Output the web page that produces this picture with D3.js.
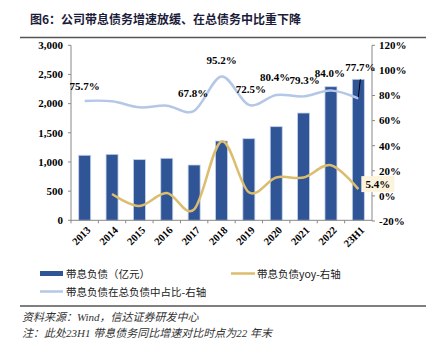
<!DOCTYPE html>
<meta charset="utf-8">
<head>
    <script src="https://d3js.org/d3.v7.min.js"></script>
    <style>
        body { margin: 0; background: #fff; }
        svg text { font-family: "Liberation Serif", "Times New Roman", "Noto Sans CJK SC", serif; }
    </style>
</head>
<body>
<div id="chart"></div>
<script>
    // data
    var years = ["2013", "2014", "2015", "2016", "2017", "2018", "2019", "2020", "2021", "2022", "23H1"]
    var debt = [1115, 1131, 1040, 1063, 948, 1359, 1399, 1605, 1839, 2290, 2417]
    var yoy = [null, 1.5, -8.0, 2.3, -10.8, 43.4, 2.9, 14.7, 14.6, 24.5, 5.4]
    var share = [75.7, 75.4, 70.6, 71.9, 67.8, 95.2, 72.5, 80.4, 79.3, 84.0, 77.7]
    var leftTicks = [0, 500, 1000, 1500, 2000, 2500, 3000]
    var rightTicks = [-20, 0, 20, 40, 60, 80, 100, 120]
    // which share points get a label
    var shareLabelIdx = [0, 4, 5, 6, 7, 8, 9, 10]

    var W = 426, H = 345
    var margin = {left: 71, right: 54, top: 45.3, bottom: 124.7}
    var svg = d3.select("#chart").append("svg")
        .attr("width", W)
        .attr("height", H);

    var y = d3.scaleLinear().domain([0, 3000]).range([H - margin.bottom, margin.top]);
    var y2 = d3.scaleLinear().domain([-20, 120]).range([H - margin.bottom + 0.7, margin.top]);
    var band = d3.scaleBand().domain(years).range([margin.left, W - margin.right]);

    // title
    svg.append("text")
        .attr("x", 30).attr("y", 24)
        .style("font-family", "'Noto Sans CJK SC', sans-serif")
        .style("font-weight", "bold")
        .style("font-size", "12px")
        .style("fill", "#1c1c3a")
        .text("图6：公司带息债务增速放缓、在总债务中比重下降");
    svg.append("line")
        .attr("x1", 20).attr("x2", W).attr("y1", 37.5).attr("y2", 37.5)
        .style("stroke", "#555").style("stroke-width", 1.5);

    // bars
    svg.append("g").selectAll("rect")
        .data(debt)
        .enter()
        .append("rect")
        .attr("x", function (d, i) { return band(years[i]) + band.bandwidth() / 2 - 6 })
        .attr("width", 12)
        .attr("y", function (d) { return y(d) })
        .attr("height", function (d) { return y(0) - y(d) })
        .style("fill", "#2f5597")
        .style("stroke", "#c5d3ea")
        .style("stroke-width", 0.8);

    var cx = function (i) { return band(years[i]) + band.bandwidth() / 2 };

    // share line
    var shareLine = d3.line()
        .x(function (d, i) { return cx(i) })
        .y(function (d) { return y2(d) })
        .curve(d3.curveCardinal.tension(0));
    svg.append("path")
        .attr("d", shareLine(share))
        .style("fill", "none")
        .style("stroke", "#b4c7e7")
        .style("stroke-width", 2.5);

    // yoy line
    var yoyPts = yoy.map(function (d, i) { return [cx(i), d] }).filter(function (p) { return p[1] !== null });
    var yoyLine = d3.line()
        .x(function (d) { return d[0] })
        .y(function (d) { return y2(d[1]) })
        .curve(d3.curveCardinal.tension(0));
    svg.append("path")
        .attr("d", yoyLine(yoyPts))
        .style("fill", "none")
        .style("stroke", "#dcbd6e")
        .style("stroke-width", 2.5);

    // left axis
    var gl = svg.append("g").attr("transform", "translate(" + margin.left + ",0)");
    gl.append("line").attr("y1", y(0)).attr("y2", y(3000)).style("stroke", "#888");
    leftTicks.forEach(function (t) {
        gl.append("line").attr("x1", -3).attr("x2", 0).attr("y1", y(t)).attr("y2", y(t)).style("stroke", "#888");
        gl.append("text")
            .attr("x", -8).attr("y", y(t)).attr("dy", "0.35em")
            .attr("text-anchor", "end")
            .style("font-weight", "bold").style("font-size", "11px")
            .text(d3.format(",")(t));
    });

    // right axis
    var gr = svg.append("g").attr("transform", "translate(" + (W - margin.right) + ",0)");
    gr.append("line").attr("y1", y2(-20)).attr("y2", y2(120)).style("stroke", "#888");
    rightTicks.forEach(function (t) {
        gr.append("line").attr("x1", 0).attr("x2", 3).attr("y1", y2(t)).attr("y2", y2(t)).style("stroke", "#888");
        gr.append("text")
            .attr("x", 7).attr("y", y2(t)).attr("dy", "0.35em")
            .style("font-weight", "bold").style("font-size", "11px")
            .text(t + "%");
    });

    // bottom axis
    var gb = svg.append("g");
    gb.append("line").attr("x1", margin.left).attr("x2", W - margin.right)
        .attr("y1", y(0)).attr("y2", y(0)).style("stroke", "#888");
    years.forEach(function (yr, i) {
        var tx = band(yr);
        gb.append("line").attr("x1", tx).attr("x2", tx).attr("y1", y(0)).attr("y2", y(0) + 3).style("stroke", "#888");
        gb.append("text")
            .attr("transform", "translate(" + (cx(i) + 4) + "," + (y(0) + 8) + ") rotate(-45)")
            .attr("text-anchor", "end")
            .attr("dy", "0.35em")
            .style("font-weight", "bold").style("font-size", "10.5px")
            .text(yr);
    });

    // share labels
    var labelOff = {0: [0, -11], 4: [-1, -14], 5: [0, -12], 6: [2, -12], 7: [-1, -14], 8: [1, -12], 9: [-1, -13], 10: [2, -27]};
    shareLabelIdx.forEach(function (i) {
        var o = labelOff[i];
        svg.append("text")
            .attr("x", cx(i) + o[0]).attr("y", y2(share[i]) + o[1])
            .attr("text-anchor", "middle")
            .style("font-weight", "bold").style("font-size", "11px")
            .text(share[i].toFixed(1) + "%");
    });
    // leader line for last label
    svg.append("line")
        .attr("x1", cx(10) + 2).attr("y1", y2(share[10]) - 19)
        .attr("x2", cx(10)).attr("y2", y2(share[10]) - 1)
        .style("stroke", "#000").style("stroke-width", 1);

    // yoy last label
    var lastYoy = yoy[10];
    svg.append("rect")
        .attr("x", cx(10) + 3).attr("y", y2(lastYoy) - 13)
        .attr("width", 33).attr("height", 16)
        .style("fill", "#fcf3dc");
    svg.append("text")
        .attr("x", cx(10) + 19.5).attr("y", y2(lastYoy) - 5).attr("dy", "0.35em")
        .attr("text-anchor", "middle")
        .style("font-weight", "bold").style("font-size", "11px")
        .text(lastYoy.toFixed(1) + "%");

    // legend
    var lg = svg.append("g");
    lg.append("rect").attr("x", 40).attr("y", 271).attr("width", 23).attr("height", 5).style("fill", "#2f5597");
    lg.append("text").attr("x", 66).attr("y", 274).attr("dy", "0.35em")
        .style("font-family", "'Noto Sans CJK SC', sans-serif").style("font-size", "10.5px").style("fill", "#222")
        .text("带息负债（亿元）");
    lg.append("line").attr("x1", 231).attr("x2", 255).attr("y1", 273.5).attr("y2", 273.5)
        .style("stroke", "#dcbd6e").style("stroke-width", 2.5);
    lg.append("text").attr("x", 257).attr("y", 274).attr("dy", "0.35em")
        .style("font-family", "'Noto Sans CJK SC', sans-serif").style("font-size", "10.5px").style("fill", "#222")
        .text("带息负债yoy-右轴");
    lg.append("line").attr("x1", 40).attr("x2", 63).attr("y1", 291.5).attr("y2", 291.5)
        .style("stroke", "#b4c7e7").style("stroke-width", 2.5);
    lg.append("text").attr("x", 66).attr("y", 292).attr("dy", "0.35em")
        .style("font-family", "'Noto Sans CJK SC', sans-serif").style("font-size", "10.5px").style("fill", "#222")
        .text("带息负债在总负债中占比-右轴");

    // footer
    svg.append("line")
        .attr("x1", 20).attr("x2", W).attr("y1", 306).attr("y2", 306)
        .style("stroke", "#555").style("stroke-width", 1.5);
    svg.append("text")
        .attr("x", 22).attr("y", 321)
        .style("font-family", "'Liberation Serif', 'Noto Sans CJK SC', serif")
        .style("font-style", "italic").style("font-size", "11px").style("fill", "#333")
        .text("资料来源：Wind，信达证券研发中心");
    svg.append("text")
        .attr("x", 22).attr("y", 337)
        .style("font-family", "'Liberation Serif', 'Noto Sans CJK SC', serif")
        .style("font-style", "italic").style("font-size", "11px").style("fill", "#333")
        .text("注：此处23H1 带息债务同比增速对比时点为22 年末");
</script>
</body>
